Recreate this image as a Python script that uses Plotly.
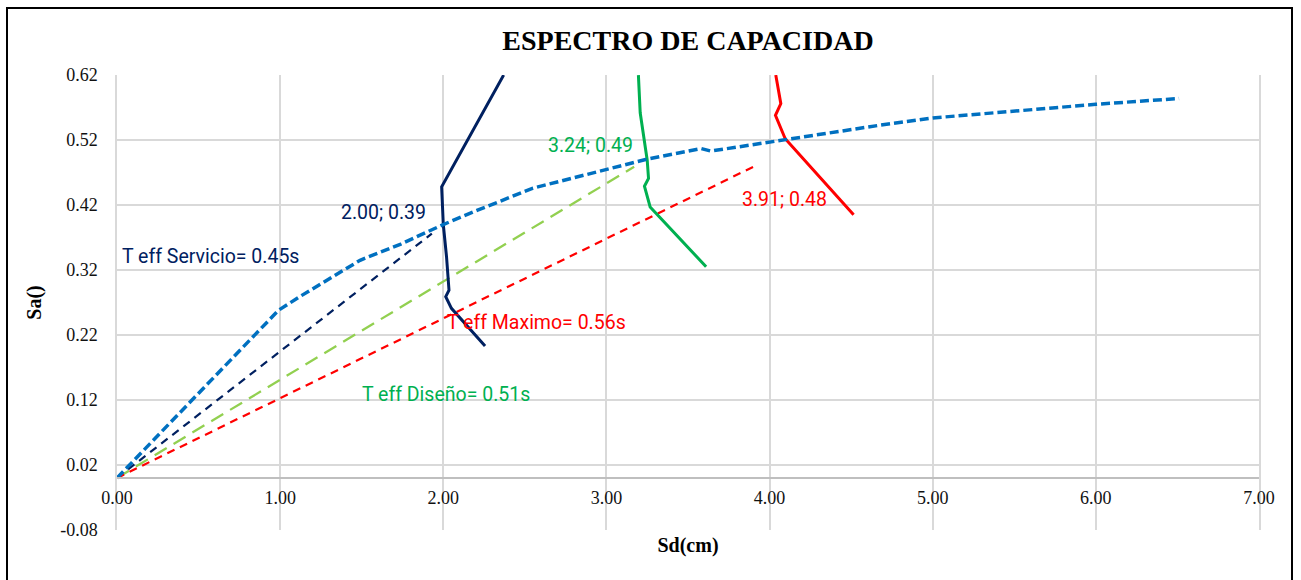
import plotly.graph_objects as go

# Capacity curve (Sd in cm, Sa)
sd_capacidad = [0.00, 0.99, 1.12, 1.49, 1.74, 2.00, 2.21, 2.55, 3.24, 3.58, 3.64, 4.10, 4.68, 5.00, 6.00, 6.51]
sa_capacidad = [0.000, 0.258, 0.279, 0.335, 0.360, 0.390, 0.412, 0.446, 0.490, 0.507, 0.503, 0.521, 0.543, 0.554, 0.575, 0.584]

# Demand spectra
sd_servicio = [2.37, 1.99, 2.00, 2.02, 2.035, 2.015, 2.05, 2.256]
sa_servicio = [0.620, 0.448, 0.390, 0.340, 0.289, 0.279, 0.261, 0.203]

sd_diseno = [3.196, 3.207, 3.25, 3.258, 3.233, 3.268, 3.611]
sa_diseno = [0.620, 0.562, 0.489, 0.461, 0.449, 0.417, 0.325]

sd_maximo = [4.038, 4.069, 4.036, 4.096, 4.515]
sa_maximo = [0.620, 0.576, 0.558, 0.522, 0.405]

# Effective period lines from the origin
sd_teff_servicio = [0.00, 1.93]
sa_teff_servicio = [0.00, 0.376]
sd_teff_diseno = [0.00, 3.17]
sa_teff_diseno = [0.00, 0.479]
sd_teff_maximo = [0.00, 3.91]
sa_teff_maximo = [0.00, 0.48]

# Performance points and period labels
punto_servicio = (2.00, 0.39)
punto_diseno = (3.24, 0.49)
punto_maximo = (3.91, 0.48)
teff = {"Servicio": 0.45, "Diseño": 0.51, "Maximo": 0.56}

x_ticks = [0, 1, 2, 3, 4, 5, 6, 7]
y_ticks = [-0.08, 0.02, 0.12, 0.22, 0.32, 0.42, 0.52, 0.62]

AZUL = "#0070C0"
NAVY = "#002060"
VERDE = "#00B050"
VERDE_CLARO = "#92D050"
ROJO = "#FF0000"

fig = go.Figure()

fig.add_trace(go.Scatter(x=sd_teff_servicio, y=sa_teff_servicio, mode="lines",
                         line=dict(color=NAVY, width=2.2, dash="8px,6px")))
fig.add_trace(go.Scatter(x=sd_teff_diseno, y=sa_teff_diseno, mode="lines",
                         line=dict(color=VERDE_CLARO, width=2.3, dash="14px,8px")))
fig.add_trace(go.Scatter(x=sd_teff_maximo, y=sa_teff_maximo, mode="lines",
                         line=dict(color=ROJO, width=2.2, dash="8px,6px")))
fig.add_trace(go.Scatter(x=sd_servicio, y=sa_servicio, mode="lines",
                         line=dict(color=NAVY, width=3)))
fig.add_trace(go.Scatter(x=sd_diseno, y=sa_diseno, mode="lines",
                         line=dict(color=VERDE, width=3)))
fig.add_trace(go.Scatter(x=sd_maximo, y=sa_maximo, mode="lines",
                         line=dict(color=ROJO, width=3)))
fig.add_trace(go.Scatter(x=sd_capacidad, y=sa_capacidad, mode="lines",
                         line=dict(color=AZUL, width=3.5, dash="9px,4px")))

lab_font = "Roboto"
anots = [
    (f"{punto_servicio[0]:.2f}; {punto_servicio[1]:.2f}", 1.631, 0.408, NAVY),
    (f"{punto_diseno[0]:.2f}; {punto_diseno[1]:.2f}", 2.903, 0.5115, VERDE),
    (f"{punto_maximo[0]:.2f}; {punto_maximo[1]:.2f}", 4.089, 0.428, ROJO),
    (f"T eff Servicio= {teff['Servicio']:.2f}s", 0.576, 0.3415, NAVY),
    (f"T eff Maximo= {teff['Maximo']:.2f}s", 2.572, 0.2385, ROJO),
    (f"T eff Diseño= {teff['Diseño']:.2f}s", 2.017, 0.128, VERDE),
]
for texto, ax_x, ax_y, col in anots:
    fig.add_annotation(x=ax_x, y=ax_y, xref="x", yref="y", text=texto, showarrow=False,
                       font=dict(family=lab_font, size=19.5, color=col),
                       xanchor="center", yanchor="middle")

y_lo, y_hi = -0.0801, 0.6201
x_axis_pos = (0 - y_lo) / (y_hi - y_lo)

serif = "Liberation Serif, Times New Roman, serif"
fig.update_layout(
    width=1301, height=580,
    margin=dict(l=117, r=42, t=75, b=50),
    paper_bgcolor="white", plot_bgcolor="white",
    showlegend=False,
    title=dict(text="<b>ESPECTRO DE CAPACIDAD</b>", x=0.5, xref="paper", xanchor="center",
               y=1 - 40 / 580, yref="container", yanchor="middle",
               font=dict(family=serif, size=28, color="black")),
    xaxis=dict(
        range=[0, 7], tickvals=x_ticks, ticktext=[f"{v:.2f}" for v in x_ticks],
        anchor="free", position=x_axis_pos,
        showgrid=True, gridcolor="#D9D9D9", gridwidth=1.5,
        showline=True, linecolor="#BFBFBF", linewidth=2,
        zeroline=False, ticks="", ticklabelstandoff=3,
        tickfont=dict(family=serif, size=18, color="#111111"),
        title=dict(text="<b>Sd(cm)</b>", font=dict(family=serif, size=20, color="black"), standoff=30),
    ),
    yaxis=dict(
        range=[y_lo, y_hi], tickvals=y_ticks,
        ticktext=[f"{v:.2f}".replace("\u2212", "-") for v in y_ticks],
        showgrid=True, gridcolor="#D9D9D9", gridwidth=1.5,
        showline=True, linecolor="#D9D9D9", linewidth=1.5, mirror=True,
        zeroline=False, ticks="", ticklabelstandoff=14,
        tickfont=dict(family=serif, size=18, color="#111111"),
        title=dict(text="<b>Sa()</b>", font=dict(family=serif, size=20, color="black"), standoff=13),
    ),
)

# Outer frame around the chart
fig.add_shape(type="rect", xref="paper", yref="paper",
              x0=(7 - 117) / 1142, x1=(1292 - 117) / 1142,
              y0=(530 - 590) / 455, y1=(530 - 8) / 455,
              line=dict(color="black", width=2), fillcolor="rgba(0,0,0,0)", layer="above")

fig.write_html("out.html")
